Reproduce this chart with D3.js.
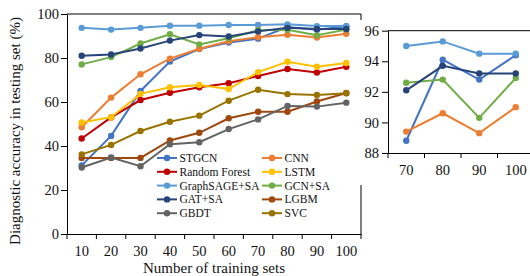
<!DOCTYPE html>
<html>
<head>
<meta charset="utf-8">
<script src="https://cdn.jsdelivr.net/npm/d3@7"></script>
<style>
  body { margin: 0; background: #fff; }
  text { font-family: "Liberation Serif", "Times New Roman", serif; fill: #111; }
</style>
</head>
<body>
<div id="wrapper"></div>
<script>
var trainSets = [10, 20, 30, 40, 50, 60, 70, 80, 90, 100];
var insetSets = [70, 80, 90, 100];
var yTicks = [0, 20, 40, 60, 80, 100];
var insetTicks = [88, 90, 92, 94, 96];

var stgcn        = [31.2, 44.6, 65.0, 78.4, 84.1, 87.0, 88.8, 94.1, 92.8, 94.4];
var cnn          = [48.5, 62.0, 72.6, 79.7, 84.2, 87.6, 89.4, 90.6, 89.3, 91.0];
var randomForest = [43.4, 53.0, 60.9, 64.2, 66.7, 68.5, 71.8, 75.0, 73.4, 76.0];
var lstm         = [50.7, 53.1, 63.7, 66.7, 67.7, 65.9, 73.6, 78.3, 76.0, 77.7];
var graphSage    = [93.7, 92.9, 93.7, 94.7, 94.7, 95.0, 95.0, 95.3, 94.5, 94.5];
var gcn          = [77.1, 80.4, 86.6, 90.8, 86.2, 89.0, 92.6, 92.8, 90.3, 92.9];
var gat          = [81.0, 81.6, 84.3, 87.9, 90.4, 89.8, 92.1, 93.7, 93.2, 93.2];
var lgbm         = [34.6, 34.6, 34.6, 42.5, 46.0, 52.6, 55.6, 55.6, 60.2, 64.1];
var gbdt         = [30.2, 34.8, 30.8, 40.8, 41.7, 47.7, 52.1, 58.2, 57.9, 59.7];
var svc          = [36.2, 40.5, 46.8, 51.0, 53.8, 60.6, 65.6, 63.6, 63.2, 64.0];

var series = [
  {name: 'STGCN',         values: stgcn,        color: '#4472C4', inset: true},
  {name: 'CNN',           values: cnn,          color: '#ED7D31', inset: true},
  {name: 'Random Forest', values: randomForest, color: '#C00000', inset: false},
  {name: 'LSTM',          values: lstm,         color: '#FFC000', inset: false},
  {name: 'GraphSAGE+SA',  values: graphSage,    color: '#5B9BD5', inset: true},
  {name: 'GCN+SA',        values: gcn,          color: '#70AD47', inset: true},
  {name: 'GAT+SA',        values: gat,          color: '#264478', inset: true},
  {name: 'LGBM',          values: lgbm,         color: '#9E480E', inset: false},
  {name: 'GBDT',          values: gbdt,         color: '#636363', inset: false},
  {name: 'SVC',           values: svc,          color: '#997300', inset: false}
];

var svg = d3.select('#wrapper').append('svg')
  .attr('width', 530).attr('height', 276);

// main chart
var x = d3.scaleBand().domain(trainSets).range([67, 361]).padding(0);
var y = d3.scaleLinear().domain([0, 100]).range([234, 14]);

var main = svg.append('g').attr('id', 'main');

var yAxis = d3.axisLeft(y).tickValues(yTicks).tickSize(6).tickPadding(2).tickSizeOuter(0);
main.append('g').attr('transform', 'translate(67,0)').call(yAxis);

var xAxis = d3.axisBottom(x).tickSize(0).tickPadding(12);
var xg = main.append('g').attr('transform', 'translate(0,234)').call(xAxis);
xg.selectAll('line.bound')
  .data(d3.range(trainSets.length + 1))
  .enter().append('line').attr('class', 'bound')
  .attr('x1', function(i) { return x.range()[0] + i * x.step(); })
  .attr('x2', function(i) { return x.range()[0] + i * x.step(); })
  .attr('y1', 0).attr('y2', 5)
  .style('stroke', '#000');

main.selectAll('.tick text').style('font-size', '14.5px').style('font-family', '"Liberation Serif", serif');
main.selectAll('.domain').style('stroke', '#000');

// box top + right
main.append('line').attr('x1', 67).attr('x2', 361).attr('y1', y(100)).attr('y2', y(100)).style('stroke', '#000');
main.append('line').attr('x1', 361).attr('x2', 361).attr('y1', y(100)).attr('y2', y(0)).style('stroke', '#000');

var line = d3.line()
  .x(function(d, i) { return x(trainSets[i]) + x.bandwidth() / 2; })
  .y(function(d) { return y(d); });

series.forEach(function(s) {
  var g = main.append('g');
  g.append('path').attr('d', line(s.values))
    .style('fill', 'none').style('stroke', s.color).style('stroke-width', 2);
  g.selectAll('circle').data(s.values).enter().append('circle')
    .attr('cx', function(d, i) { return x(trainSets[i]) + x.bandwidth() / 2; })
    .attr('cy', function(d) { return y(d); })
    .attr('r', 3.2)
    .style('fill', s.color);
});

// axis titles
svg.append('text')
  .attr('transform', 'translate(20,131) rotate(-90)')
  .attr('text-anchor', 'middle')
  .style('font-size', '15px')
  .text('Diagnostic accuracy in testing set (%)');

svg.append('text')
  .attr('x', 214).attr('y', 273)
  .attr('text-anchor', 'middle')
  .style('font-size', '15px')
  .text('Number of training sets');

// legend
var legend = svg.append('g').attr('id', 'legend');
series.forEach(function(s, i) {
  var col = i % 2, row = Math.floor(i / 2);
  var lx = col === 0 ? 157 : 262;
  var ly = 158 + row * 13.8;
  var g = legend.append('g').attr('transform', 'translate(' + lx + ',' + ly + ')');
  g.append('line').attr('x1', 0).attr('x2', 20).attr('y1', 0).attr('y2', 0)
    .style('stroke', s.color).style('stroke-width', 2);
  g.append('circle').attr('cx', 10).attr('cy', 0).attr('r', 3.2).style('fill', s.color);
  g.append('text').attr('x', 22.5).attr('y', 4)
    .style('font-size', '11.5px').text(s.name);
});

// inset (pasted over the main chart's right side)
svg.append('rect').attr('x', 355).attr('y', 20).attr('width', 175).attr('height', 165).style('fill', '#fff');

var ix = d3.scaleBand().domain(insetSets).range([388, 534]).padding(0);
var iy = d3.scaleLinear().domain([88, 96]).range([153, 30.7]);

var inset = svg.append('g').attr('id', 'inset');
inset.append('g').attr('transform', 'translate(388,0)')
  .call(d3.axisLeft(iy).tickValues(insetTicks).tickSize(6).tickPadding(3).tickSizeOuter(0));
var ixg = inset.append('g').attr('transform', 'translate(0,153)')
  .call(d3.axisBottom(ix).tickSize(0).tickPadding(12));
ixg.selectAll('line.bound')
  .data(d3.range(insetSets.length + 1))
  .enter().append('line').attr('class', 'bound')
  .attr('x1', function(i) { return ix.range()[0] + i * ix.step(); })
  .attr('x2', function(i) { return ix.range()[0] + i * ix.step(); })
  .attr('y1', 0).attr('y2', 5)
  .style('stroke', '#000');
inset.selectAll('.tick text').style('font-size', '14.5px').style('font-family', '"Liberation Serif", serif');
inset.selectAll('.domain').style('stroke', '#000');
inset.append('line').attr('x1', 388).attr('x2', 530).attr('y1', iy(96)).attr('y2', iy(96)).style('stroke', '#000');

var offset = trainSets.indexOf(insetSets[0]);
var iline = d3.line()
  .x(function(d, i) { return ix(insetSets[i]) + ix.bandwidth() / 2; })
  .y(function(d) { return iy(d); });

series.filter(function(s) { return s.inset; }).forEach(function(s) {
  var vals = s.values.slice(offset);
  var g = inset.append('g');
  g.append('path').attr('d', iline(vals))
    .style('fill', 'none').style('stroke', s.color).style('stroke-width', 2);
  g.selectAll('circle').data(vals).enter().append('circle')
    .attr('cx', function(d, i) { return ix(insetSets[i]) + ix.bandwidth() / 2; })
    .attr('cy', function(d) { return iy(d); })
    .attr('r', 3.2)
    .style('fill', s.color);
});
</script>
</body>
</html>
